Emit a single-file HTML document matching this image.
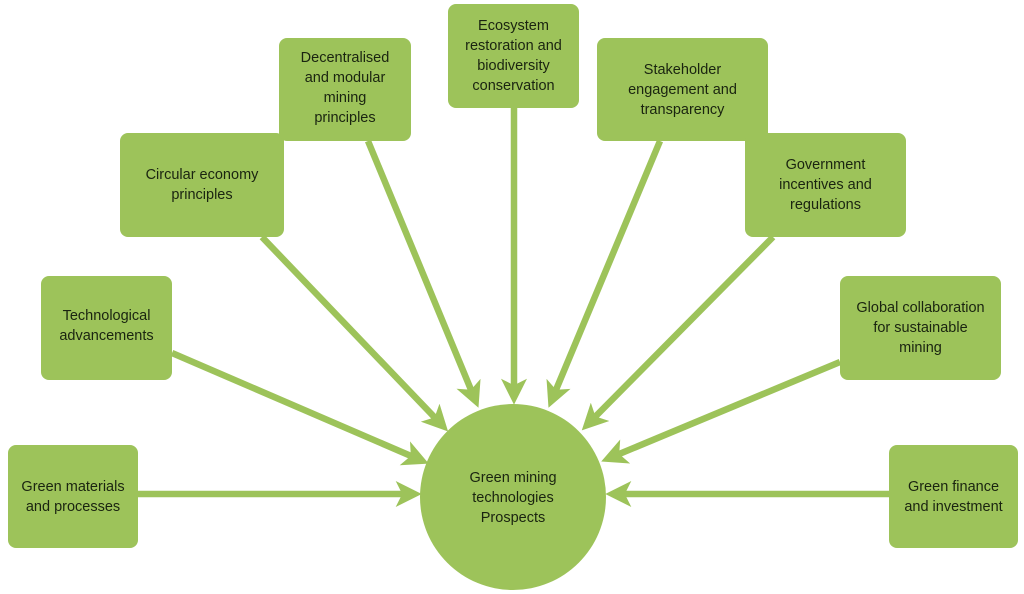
<!DOCTYPE html>
<html><head><meta charset="utf-8"><style>
html,body{margin:0;padding:0;background:#fff;width:1024px;height:594px;overflow:hidden}
.b{position:absolute;background:#9dc35a;border-radius:8px;display:flex;align-items:center;justify-content:center;text-align:center;font-family:"Liberation Sans",sans-serif;font-size:14.5px;line-height:20px;color:#1a2410}
</style></head><body>
<svg width="1024" height="594" style="position:absolute;left:0;top:0">
<defs><marker id="a" markerWidth="4" markerHeight="4" refX="2.2" refY="2" orient="auto" markerUnits="strokeWidth"><path d="M0,0 L4,2 L0,4 L1,2 z" fill="#9dc35a"/></marker></defs>
<g stroke="#9dc35a" stroke-width="6.5" marker-end="url(#a)">
<line x1="138" y1="494" x2="410" y2="494"/>
<line x1="172" y1="353" x2="418" y2="459"/>
<line x1="262" y1="237" x2="440" y2="423"/>
<line x1="368" y1="141" x2="474" y2="397"/>
<line x1="514" y1="108" x2="514" y2="393"/>
<line x1="660" y1="141" x2="553" y2="397"/>
<line x1="773" y1="237" x2="590" y2="422"/>
<line x1="840" y1="362" x2="612" y2="457"/>
<line x1="889" y1="494" x2="617" y2="494"/>
</g>
<circle cx="513" cy="497" r="93" fill="#9dc35a"/>
<text font-family="Liberation Sans,sans-serif" font-size="14.5" fill="#1a2410" text-anchor="middle"><tspan x="513" y="482">Green mining</tspan><tspan x="513" y="502">technologies</tspan><tspan x="513" y="522">Prospects</tspan></text>
</svg>
<div class="b" style="left:8px;top:445px;width:130px;height:103px">Green materials<br>and processes</div>
<div class="b" style="left:41px;top:276px;width:131px;height:104px;align-items:flex-start;padding-top:30px;box-sizing:border-box">Technological<br>advancements</div>
<div class="b" style="left:120px;top:133px;width:164px;height:104px;align-items:flex-start;padding-top:32px;box-sizing:border-box">Circular economy<br>principles</div>
<div class="b" style="left:279px;top:38px;width:132px;height:103px;align-items:flex-start;padding-top:10px;box-sizing:border-box">Decentralised<br>and modular<br>mining<br>principles</div>
<div class="b" style="left:448px;top:4px;width:131px;height:104px;align-items:flex-start;padding-top:12px;box-sizing:border-box">Ecosystem<br>restoration and<br>biodiversity<br>conservation</div>
<div class="b" style="left:597px;top:38px;width:171px;height:103px;align-items:flex-start;padding-top:22px;box-sizing:border-box">Stakeholder<br>engagement and<br>transparency</div>
<div class="b" style="left:745px;top:133px;width:161px;height:104px;align-items:flex-start;padding-top:22px;box-sizing:border-box">Government<br>incentives and<br>regulations</div>
<div class="b" style="left:840px;top:276px;width:161px;height:104px;align-items:flex-start;padding-top:22px;box-sizing:border-box">Global collaboration<br>for sustainable<br>mining</div>
<div class="b" style="left:889px;top:445px;width:129px;height:103px">Green finance<br>and investment</div>
</body></html>
